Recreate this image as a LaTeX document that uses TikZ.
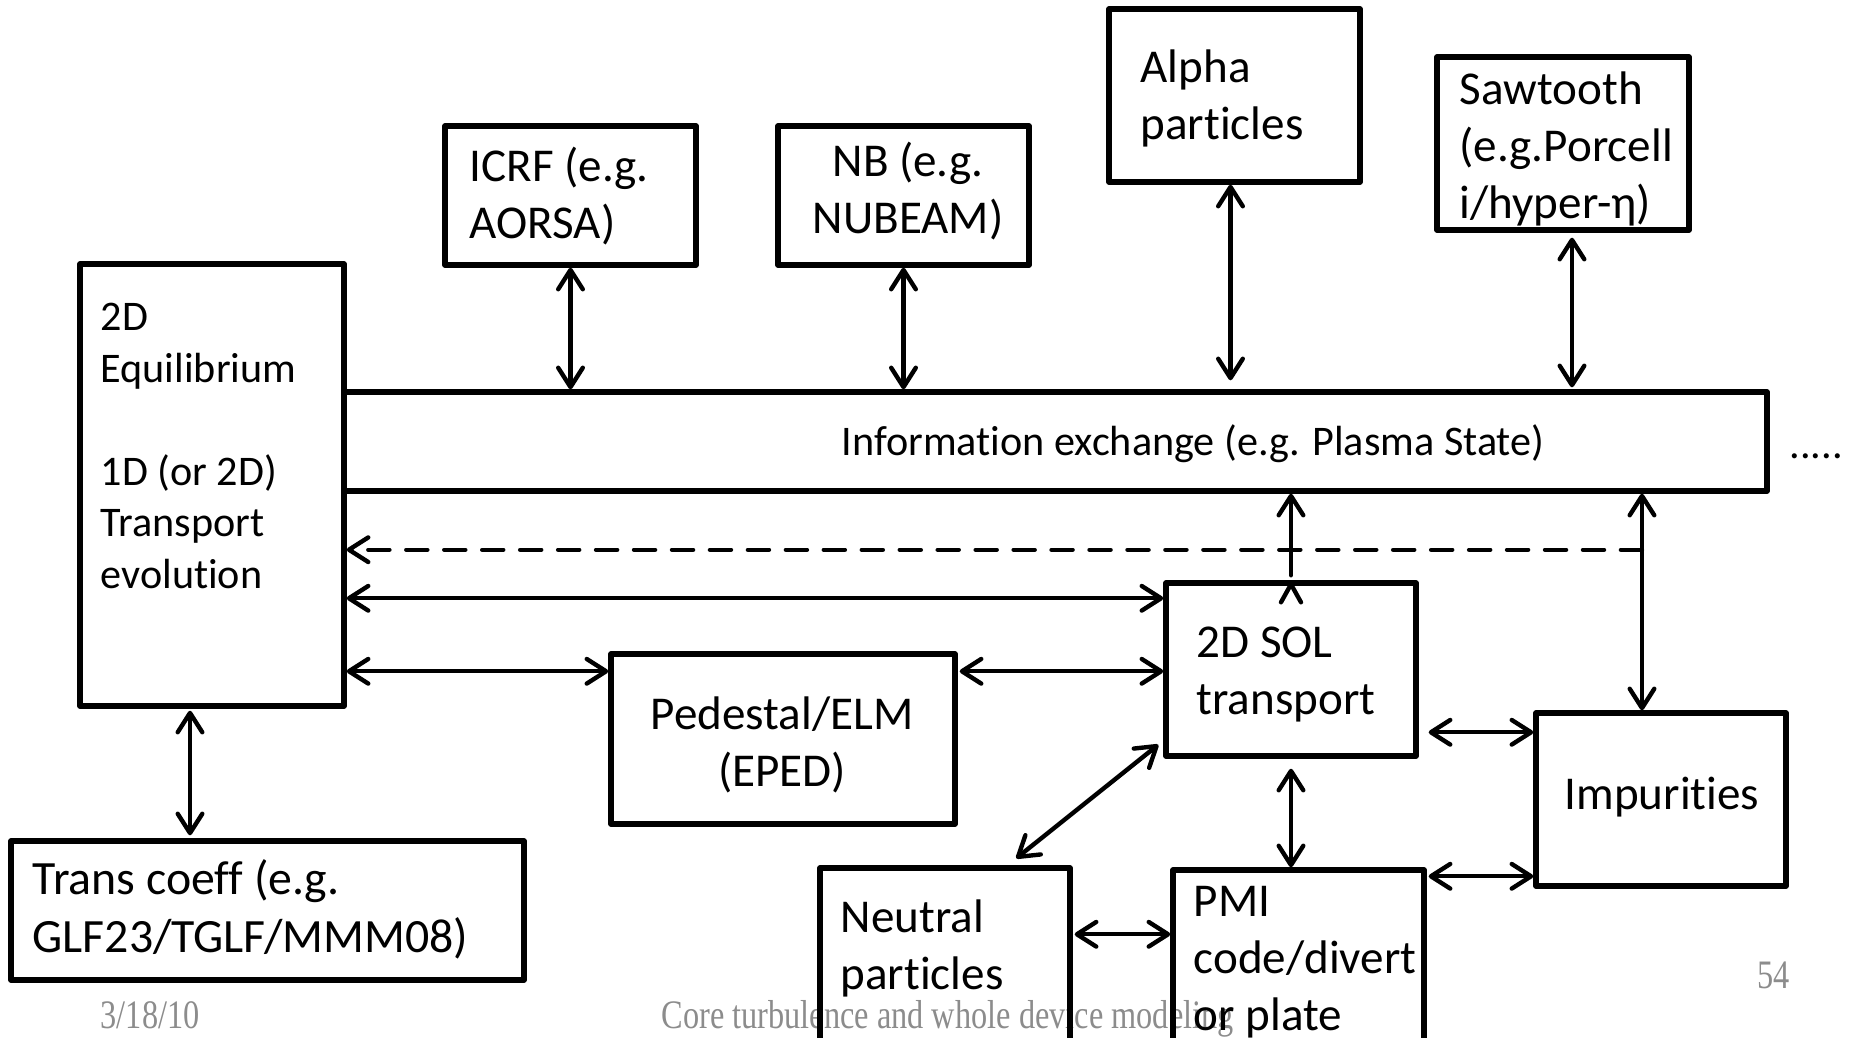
\documentclass[tikz,border=0pt]{standalone}
\usepackage{fontspec}
\usepackage{graphicx}
\setmainfont{Carlito}[Ligatures=NoCommon]
\newfontfamily\footfont{Liberation Serif}
\usetikzlibrary{arrows.meta,calc,fit}
\definecolor{footgray}{RGB}{140,140,140}
\newcommand{\boxfont}{\fontsize{13.4}{16.1}\selectfont}
\newcommand{\corefont}{\fontsize{12}{14.65}\selectfont}
\newcommand{\slidefoot}[1]{\scalebox{0.8}[1]{\footfont #1}}

\begin{document}
\begin{tikzpicture}[x=0.1mm,y=-0.1mm,
  box/.style={draw, line width=1.55pt, line join=round, inner sep=0pt},
  conn/.style={line width=1.25pt, line cap=round, line join=round},
  >={Straight Barb[round,length=5.5pt,width=7pt]},
  % multi-line labels are placed by the baseline of their last line
  txt/.style={anchor=base west, inner sep=0pt, align=left, font=\boxfont},
  ctxt/.style={anchor=base, inner sep=0pt, align=center, font=\boxfont},
  foot/.style={anchor=base west, inner sep=0pt, text=footgray, font=\fontsize{11.5}{13}\selectfont}
]
\clip (0,0) rectangle (1850,1038);

% slide footer
\node[foot] (date) at (100,1028) {\slidefoot{3/18/10}};
\node[foot] (title) at (661,1028) {\slidefoot{Core turbulence and whole device modeling}};
\node[foot] (page) at (1757,988) {\slidefoot{54}};

% component boxes
\node[box, fit={(80,264) (344,706)}] (eq) {};
\node[box, fit={(344,392) (1767,491)}] (info) {};
\node[box, fit={(445,126) (696,265)}] (icrf) {};
\node[box, fit={(778,126) (1029,265)}] (nb) {};
\node[box, fit={(1109,9) (1360,182)}] (alpha) {};
\node[box, fit={(1437,57) (1689,230)}] (saw) {};
\node[box, fit={(1166,583) (1416,756)}] (sol) {};
\node[box, fit={(611,654) (955,824)}] (ped) {};
\node[box, fit={(1536,713) (1786,886)}] (imp) {};
\node[box, fit={(11,841) (524,980)}] (trans) {};
\node[box, fit={(820,868) (1070,1041)}] (neut) {};
\node[box, fit={(1173,870) (1424,1043)}] (pmi) {};

% box labels
\node[txt, font=\corefont] (eqtxt) at (100,588) {2D\\Equilibrium\\[14.65pt]1D (or 2D)\\Transport\\evolution};
\node[txt, font=\corefont] (infotxt) at (841,455) {Information exchange (e.g. Plasma State)};
\node[txt, font=\corefont] (more) at (1789,458) {.....};
\node[txt] (icrftxt) at (469,238) {ICRF (e.g.\\AORSA)};
\node[ctxt] (nbtxt) at (908,233) {NB (e.g.\\NUBEAM)};
\node[txt] (alphatxt) at (1140,139) {Alpha\\particles};
\node[txt] (sawtxt) at (1459,218) {Sawtooth\\(e.g.Porcell\\i/hyper-η)};
\node[txt, font=\fontsize{13.6}{16.3}\selectfont] (transtxt) at (32,952) {Trans coeff (e.g.\\GLF23/TGLF/MMM08)};
\node[ctxt] (pedtxt) at (782,786) {Pedestal/ELM\\(EPED)};
\node[txt] (soltxt) at (1196,714) {2D SOL\\transport};
\node[txt] (imptxt) at (1564,809) {Impurities};
\node[txt] (neuttxt) at (840,989) {Neutral\\particles};
\node[txt] (pmitxt) at (1193,1030) {PMI\\code/divert\\or plate};

% links to the information exchange
\draw[conn,<->] (icrf.south) -- (icrf.south |- info.north);
\draw[conn,<->] (nb.south) -- (nb.south |- info.north);
\draw[conn,<->] ($(alpha.south)+(-4,0)$) -- ($(alpha.south |- info.north)+(-4,-9)$);
\draw[conn,<->] ($(saw.south)+(9,5)$) -- ($(saw.south |- info.north)+(9,-2)$);
\draw[conn,->] ($(sol.north)+(0,-5)$) -- (sol.north |- info.south);
\draw[conn] ($(sol.north)+(-10,22)$) -- ($(sol.north)+(0,4)$) -- ($(sol.north)+(10,22)$);
\draw[conn,<->] ($(info.south -| imp.north)+(-19,0)$) -- ($(imp.north)+(-19,0)$);
\draw[conn,dash pattern=on 6pt off 4.8pt,->] ($(info.south -| imp.north)+(-19,56)$) -- ($(info.south -| eq.east)+(0,56)$);

% core transport links
\coordinate (solrow) at ($(sol.north west)+(0,18)$);
\draw[conn,<->] (solrow -| eq.east) -- (solrow);
\coordinate (pedrow) at ($(ped.north west)+(0,20)$);
\draw[conn,<->] (pedrow -| eq.east) -- (pedrow);
\coordinate (pedsol) at ($(ped.north east)+(2,20)$);
\draw[conn,<->] (pedsol) -- (pedsol -| sol.west);
\draw[conn,<->] ($(eq.south)+(-22,2)$) -- ($(eq.south |- trans.north)+(-22,-3)$);

% edge and wall links
\coordinate (impup) at ($(sol.north east)+(10,152)$);
\draw[conn,<->] (impup) -- (impup -| imp.west);
\coordinate (implow) at ($(pmi.north east)+(2,9)$);
\draw[conn,<->] (implow) -- (implow -| imp.west);
\draw[conn,<->] ($(sol.south)+(0,10)$) -- (sol.south |- pmi.north);
\coordinate (neutrow) at ($(neut.north east)+(2,69)$);
\draw[conn,<->] (neutrow) -- (neutrow -| pmi.west);
\draw[conn,<->] ($(sol.south west)+(-5,-14)$) -- ($(neut.north west)+(199,-7)$);
\end{tikzpicture}
\end{document}
